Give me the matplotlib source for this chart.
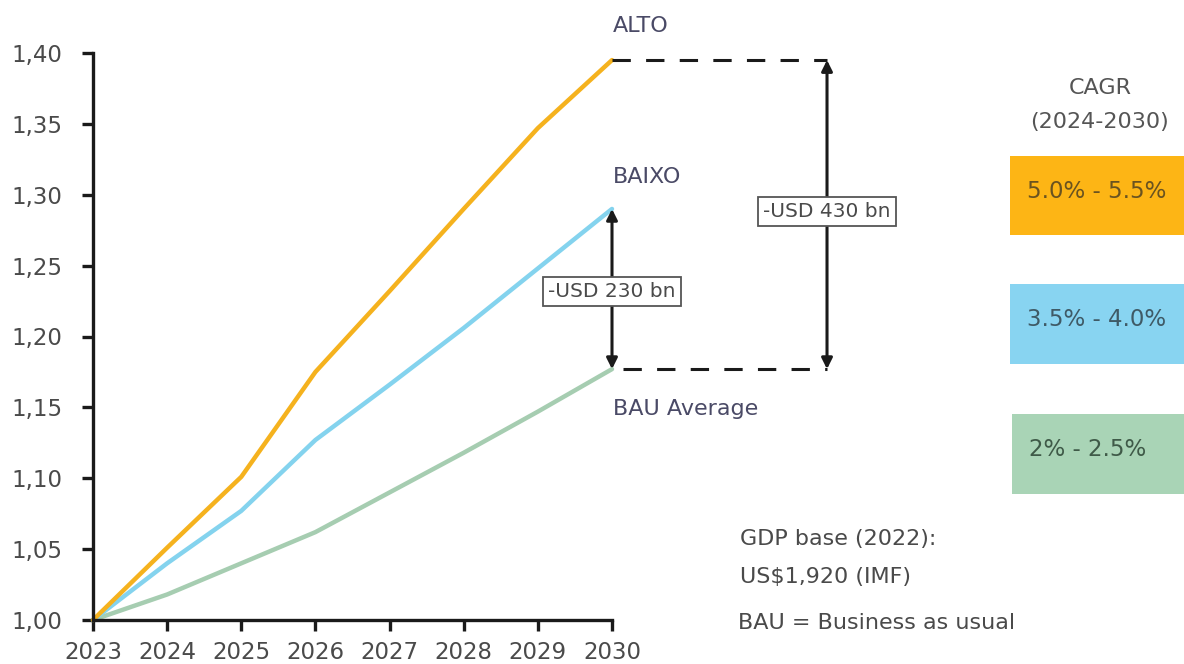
import matplotlib
matplotlib.use("Agg")
import matplotlib.pyplot as plt
from matplotlib.patches import Rectangle

# dados
anos = [2023, 2024, 2025, 2026, 2027, 2028, 2029, 2030]
alto = [1.00, 1.051, 1.101, 1.175, 1.232, 1.290, 1.347, 1.395]
baixo = [1.00, 1.040, 1.077, 1.127, 1.166, 1.206, 1.248, 1.290]
bau = [1.00, 1.018, 1.040, 1.062, 1.090, 1.118, 1.147, 1.177]
y_ticks = [1.00, 1.05, 1.10, 1.15, 1.20, 1.25, 1.30, 1.35, 1.40]
cagr_labels = ["5.0% - 5.5%", "3.5% - 4.0%", "2% - 2.5%"]
gap_labels = ["-USD 230 bn", "-USD 430 bn"]

c_alto = "#F5B21E"
c_baixo = "#84D3EE"
c_bau = "#A6CDB1"
txt = "#4a4a4a"
nav = "#4a4a66"

W, H = 1184, 664
fig = plt.figure(figsize=(W / 100, H / 100), dpi=100)
ax = fig.add_axes([93 / W, 1 - 620 / H, (612 - 93) / W, (620 - 53) / H])


def px(x, y):
    return x / W, 1 - y / H


ax.plot(anos, bau, color=c_bau, lw=3.2, solid_capstyle="round", clip_on=False)
ax.plot(anos, baixo, color=c_baixo, lw=3.2, solid_capstyle="round", clip_on=False)
ax.plot(anos, alto, color=c_alto, lw=3.2, solid_capstyle="round", clip_on=False)

ax.set_xlim(2023, 2030)
ax.set_ylim(1.00, 1.40)
ax.set_xticks(anos)
ax.set_yticks(y_ticks)
ax.set_yticklabels([f"{v:.2f}".replace(".", ",") for v in y_ticks])
for s in ["top", "right"]:
    ax.spines[s].set_visible(False)
for s in ["left", "bottom"]:
    ax.spines[s].set_linewidth(2.4)
    ax.spines[s].set_color("#1a1a1a")
ax.tick_params(axis="both", width=2.4, length=8, color="#1a1a1a",
               labelsize=16.5, labelcolor=txt)
ax.tick_params(axis="y", pad=14)
ax.tick_params(axis="x", pad=7)

# linhas tracejadas e setas
x_far = 2032.9
ax.plot([2030, x_far], [alto[-1], alto[-1]], ls=(0, (6, 5)), color="#1a1a1a",
        lw=2.2, clip_on=False)
ax.plot([2030.15, x_far], [bau[-1], bau[-1]], ls=(0, (6, 5)), color="#1a1a1a",
        lw=2.2, clip_on=False)
arr = dict(arrowstyle="<|-|>", color="#1a1a1a", lw=2.2, mutation_scale=16,
           shrinkA=0, shrinkB=0)
ax.annotate("", xy=(2030, baixo[-1]), xytext=(2030, bau[-1]),
            arrowprops=arr, annotation_clip=False)
ax.annotate("", xy=(x_far, alto[-1]), xytext=(x_far, bau[-1]),
            arrowprops=arr, annotation_clip=False)

box = dict(boxstyle="square,pad=0.25", fc="white", ec="#555555", lw=1.3)
ax.text(2030, 1.232, gap_labels[0], ha="center", va="center",
        fontsize=14.5, color=txt, bbox=box, clip_on=False)
ax.text(x_far, 1.288, gap_labels[1], ha="center", va="center",
        fontsize=14.5, color=txt, bbox=box, clip_on=False)

# rótulos das séries
fig.text(*px(613, 26), "ALTO", fontsize=16, color=nav, va="center")
fig.text(*px(613, 177), "BAIXO", fontsize=16, color=nav, va="center")
fig.text(*px(613, 409), "BAU Average", fontsize=16, color=nav, va="center")

# CAGR
fig.text(*px(1100, 88), "CAGR", fontsize=16, color="#555555", ha="center", va="center")
fig.text(*px(1100, 122), "(2024-2030)", fontsize=16, color="#555555", ha="center", va="center")
caixas = [(1010, 156, 235, "#FDB515", "#6a5320"),
          (1010, 284, 364, "#88D4F1", "#3f5a66"),
          (1012, 414, 494, "#A9D4B6", "#3f5a48")]
for (x0, y0, y1, fc, tc), lab in zip(caixas, cagr_labels):
    fig.patches.append(Rectangle(px(x0, y1), (W - x0) / W, (y1 - y0) / H,
                                 transform=fig.transFigure, fc=fc, ec="none"))
    fig.text(*px(x0 + 17, (y0 + y1) / 2 - 4), lab, fontsize=16.5, color=tc, va="center")

fig.text(*px(740, 539), "GDP base (2022):", fontsize=16, color=txt, va="center")
fig.text(*px(740, 577), "US$1,920 (IMF)", fontsize=16, color=txt, va="center")
fig.text(*px(738, 623), "BAU = Business as usual", fontsize=16, color=txt, va="center")

fig.savefig("out.png", dpi=100, facecolor="white")
